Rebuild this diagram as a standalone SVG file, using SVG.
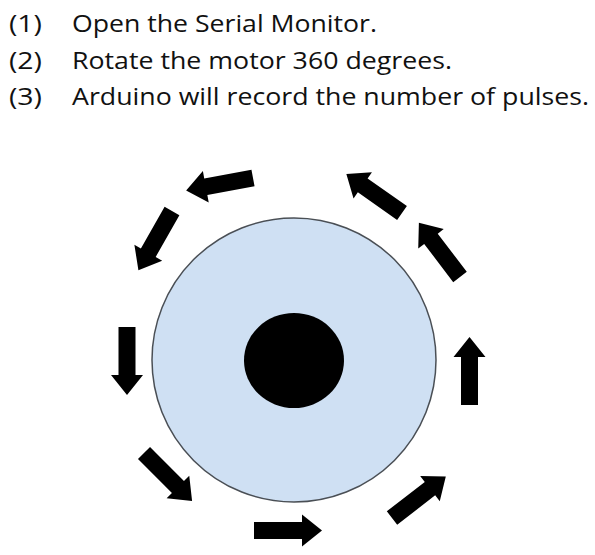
<svg xmlns="http://www.w3.org/2000/svg" xmlns:xlink="http://www.w3.org/1999/xlink" width="595" height="555" viewBox="0 0 595 555">
<style>
  .t { font-family: "Open Sans", "Liberation Sans", Arial, sans-serif; font-size: 24px; fill: #111; }
  .arr { fill: #000; }
</style>
<defs>
  <path id="arrow" d="M0,-8.5 H48 V-16 L68,0 L48,16 V8.5 H0 Z"/>
</defs>
<rect width="595" height="555" fill="#fff"/>
<g id="steps">
  <text class="t" x="9" y="32" textLength="33" lengthAdjust="spacingAndGlyphs">(1)</text>
  <text class="t" x="72" y="32" textLength="305" lengthAdjust="spacingAndGlyphs">Open the Serial Monitor.</text>
  <text class="t" x="9" y="68.5" textLength="33" lengthAdjust="spacingAndGlyphs">(2)</text>
  <text class="t" x="72" y="68.5" textLength="380" lengthAdjust="spacingAndGlyphs">Rotate the motor 360 degrees.</text>
  <text class="t" x="9" y="105" textLength="33" lengthAdjust="spacingAndGlyphs">(3)</text>
  <text class="t" x="72" y="105" textLength="517" lengthAdjust="spacingAndGlyphs">Arduino will record the number of pulses.</text>
</g>
<g id="motor">
  <circle cx="294" cy="360" r="142" fill="#cfe0f3" stroke="#4a4f55" stroke-width="1.5"/>
  <ellipse cx="294" cy="360.5" rx="50" ry="47.5" fill="#000"/>
</g>
<g id="rotation-arrows" class="arr">
  <use xlink:href="#arrow" href="#arrow" transform="translate(253,178) rotate(169.5)"/>
  <use xlink:href="#arrow" href="#arrow" transform="translate(172,211) rotate(119.6)"/>
  <use xlink:href="#arrow" href="#arrow" transform="translate(127,327) rotate(90)"/>
  <use xlink:href="#arrow" href="#arrow" transform="translate(144,453) rotate(45)"/>
  <use xlink:href="#arrow" href="#arrow" transform="translate(254,530.5) rotate(0)"/>
  <use xlink:href="#arrow" href="#arrow" transform="translate(392,518) rotate(-37.7)"/>
  <use xlink:href="#arrow" href="#arrow" transform="translate(469.5,405) rotate(-90)"/>
  <use xlink:href="#arrow" href="#arrow" transform="translate(460,277) rotate(-127.2)"/>
  <use xlink:href="#arrow" href="#arrow" transform="translate(402,213) rotate(-144.9)"/>
</g>
</svg>
